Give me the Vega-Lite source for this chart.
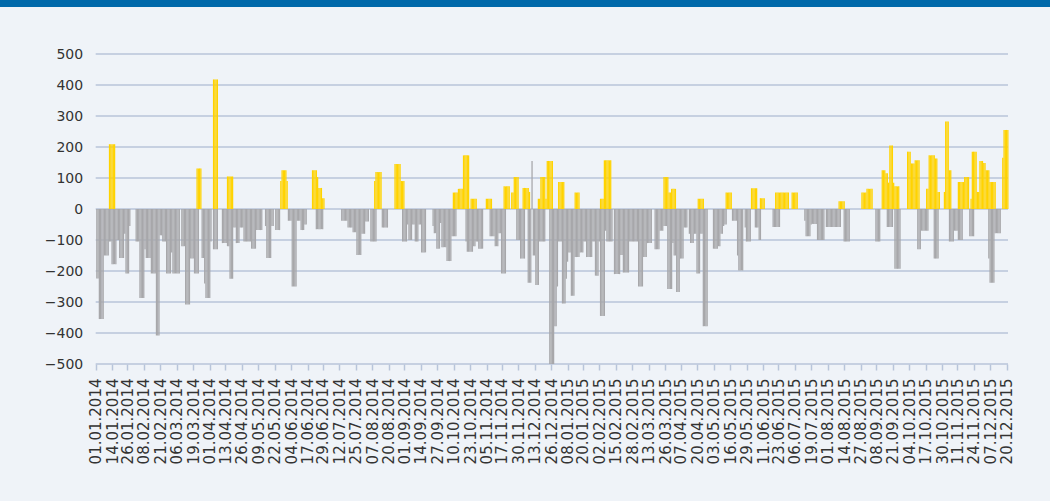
{
"$schema": "https://vega.github.io/schema/vega-lite/v6.json",
"background": "#eff3f8",
"padding": {"left": 0, "top": 0, "right": 0, "bottom": 40},
"spacing": 40,
"config": {"view": {"stroke": null}, "font": "DejaVu Sans",
 "axisX": {"format": "%d.%m.%Y", "formatType": "utc", "labelAngle": -90, "labelFontSize": 15, "labelColor": "#333333", "labelPadding": 8, "labelOverlap": false, "labelFlush": false, "labelBound": false,
  "domain": false, "grid": false, "ticks": true, "tickColor": "#b8c5da", "tickWidth": 1.5, "tickSize": 6, "title": null},
 "axisY": {"labelOverlap": false, "domain": false, "ticks": false, "grid": false, "offset": -95.7, "labelPadding": 13, "labelFontSize": 14, "labelColor": "#333333", "title": null}
},
"vconcat": [
{"width": 1050, "height": 7, "data": {"values": [{"k": 1}]}, "view": {"fill": "#0069aa", "stroke": null}, "mark": {"type": "point", "opacity": 0}, "encoding": {}},
{"width": 1008, "height": 310,
"layer": [
 {"data": {"values": [{"v":-500},{"v":-400},{"v":-300},{"v":-200},{"v":-100},{"v":0},{"v":100},{"v":200},{"v":300},{"v":400},{"v":500}]},
  "mark": {"type": "rule", "color": "#b8c5da", "strokeWidth": 1.5},
  "encoding": {
   "x": {"datum": 1388534400000, "type": "temporal", "title": null, "scale": {"type": "utc", "domain": [1382018112000, 1450656000000], "nice": false},
    "axis": {"values": [1388534400000,1389657600000,1390694400000,1391817600000,1392940800000,1394064000000,1395187200000,1396310400000,1397347200000,1398470400000,1399593600000,1400716800000,1401840000000,1402963200000,1404000000000,1405123200000,1406246400000,1407369600000,1408492800000,1409529600000,1410652800000,1411776000000,1412899200000,1414022400000,1415145600000,1416182400000,1417305600000,1418428800000,1419552000000,1420675200000,1421712000000,1422835200000,1423958400000,1425081600000,1426204800000,1427328000000,1428364800000,1429488000000,1430611200000,1431734400000,1432857600000,1433980800000,1435017600000,1436140800000,1437264000000,1438387200000,1439510400000,1440633600000,1441670400000,1442793600000,1443916800000,1445040000000,1446163200000,1447200000000,1448323200000,1449446400000,1450569600000], "format": "%d.%m.%Y", "formatType": "utc"}},
   "x2": {"datum": 1450656000000},
   "y": {"field": "v", "type": "quantitative", "title": null, "scale": {"domain": [-500, 500], "nice": false},
    "axis": {"values": [-500,-400,-300,-200,-100,0,100,200,300,400,500]}}}},
 {"data": {"name": "flows"},
  "mark": {"type": "bar", "color": "#a7a7aa", "binSpacing": 0},
  "encoding": {
   "x": {"field": "d", "type": "temporal", "timeUnit": "utcyearmonthdate", "title": null,
    "axis": {"values": [1388534400000,1389657600000,1390694400000,1391817600000,1392940800000,1394064000000,1395187200000,1396310400000,1397347200000,1398470400000,1399593600000,1400716800000,1401840000000,1402963200000,1404000000000,1405123200000,1406246400000,1407369600000,1408492800000,1409529600000,1410652800000,1411776000000,1412899200000,1414022400000,1415145600000,1416182400000,1417305600000,1418428800000,1419552000000,1420675200000,1421712000000,1422835200000,1423958400000,1425081600000,1426204800000,1427328000000,1428364800000,1429488000000,1430611200000,1431734400000,1432857600000,1433980800000,1435017600000,1436140800000,1437264000000,1438387200000,1439510400000,1440633600000,1441670400000,1442793600000,1443916800000,1445040000000,1446163200000,1447200000000,1448323200000,1449446400000,1450569600000], "format": "%d.%m.%Y", "formatType": "utc"}},
   "y": {"field": "g", "type": "quantitative", "title": null,
    "axis": {"values": [-500,-400,-300,-200,-100,0,100,200,300,400,500]}}}},
 {"data": {"name": "flows"},
  "mark": {"type": "bar", "color": "#ffd300", "binSpacing": 0},
  "encoding": {
   "x": {"field": "d", "type": "temporal", "timeUnit": "utcyearmonthdate", "title": null,
    "axis": {"values": [1388534400000,1389657600000,1390694400000,1391817600000,1392940800000,1394064000000,1395187200000,1396310400000,1397347200000,1398470400000,1399593600000,1400716800000,1401840000000,1402963200000,1404000000000,1405123200000,1406246400000,1407369600000,1408492800000,1409529600000,1410652800000,1411776000000,1412899200000,1414022400000,1415145600000,1416182400000,1417305600000,1418428800000,1419552000000,1420675200000,1421712000000,1422835200000,1423958400000,1425081600000,1426204800000,1427328000000,1428364800000,1429488000000,1430611200000,1431734400000,1432857600000,1433980800000,1435017600000,1436140800000,1437264000000,1438387200000,1439510400000,1440633600000,1441670400000,1442793600000,1443916800000,1445040000000,1446163200000,1447200000000,1448323200000,1449446400000,1450569600000], "format": "%d.%m.%Y", "formatType": "utc"}},
   "y": {"field": "y", "type": "quantitative", "title": null,
    "axis": {"values": [-500,-400,-300,-200,-100,0,100,200,300,400,500]}}}}
]
}
],
"datasets": {"flows": [
{"d":"2014-01-01","g":-224},{"d":"2014-01-02","g":-224},{"d":"2014-01-03","g":-355},{"d":"2014-01-04","g":-355},{"d":"2014-01-05","g":-355},{"d":"2014-01-06","g":-355},{"d":"2014-01-07","g":-150},{"d":"2014-01-08","g":-150},{"d":"2014-01-09","g":-150},{"d":"2014-01-10","g":-150},{"d":"2014-01-11","g":-105,"y":209},{"d":"2014-01-12","g":-105,"y":209},{"d":"2014-01-13","g":-178,"y":209},{"d":"2014-01-14","g":-178,"y":209},{"d":"2014-01-15","g":-178,"y":209},{"d":"2014-01-16","g":-178},{"d":"2014-01-17","g":-100},{"d":"2014-01-18","g":-100},{"d":"2014-01-19","g":-158},{"d":"2014-01-20","g":-158},{"d":"2014-01-21","g":-158},{"d":"2014-01-22","g":-158},{"d":"2014-01-23","g":-80},{"d":"2014-01-24","g":-208},{"d":"2014-01-25","g":-208},{"d":"2014-01-26","g":-208},{"d":"2014-01-27","g":-55},
{"d":"2014-02-01","g":-105},{"d":"2014-02-02","g":-105},{"d":"2014-02-03","g":-105},{"d":"2014-02-04","g":-287},{"d":"2014-02-05","g":-287},{"d":"2014-02-06","g":-287},{"d":"2014-02-07","g":-287},{"d":"2014-02-08","g":-130},{"d":"2014-02-09","g":-158},{"d":"2014-02-10","g":-158},{"d":"2014-02-11","g":-158},{"d":"2014-02-12","g":-158},{"d":"2014-02-13","g":-208},{"d":"2014-02-14","g":-208},{"d":"2014-02-15","g":-208},{"d":"2014-02-16","g":-208},{"d":"2014-02-17","g":-408},{"d":"2014-02-18","g":-408},{"d":"2014-02-19","g":-408},{"d":"2014-02-20","g":-85},{"d":"2014-02-21","g":-85},{"d":"2014-02-22","g":-105},{"d":"2014-02-23","g":-105},{"d":"2014-02-24","g":-105},{"d":"2014-02-25","g":-208},{"d":"2014-02-26","g":-208},{"d":"2014-02-27","g":-208},{"d":"2014-02-28","g":-208},
{"d":"2014-03-01","g":-140},{"d":"2014-03-02","g":-208},{"d":"2014-03-03","g":-208},{"d":"2014-03-04","g":-208},{"d":"2014-03-05","g":-208},{"d":"2014-03-06","g":-208},{"d":"2014-03-07","g":-208},{"d":"2014-03-09","g":-120},{"d":"2014-03-10","g":-120},{"d":"2014-03-11","g":-120},{"d":"2014-03-12","g":-308},{"d":"2014-03-13","g":-308},{"d":"2014-03-14","g":-308},{"d":"2014-03-15","g":-308},{"d":"2014-03-16","g":-160},{"d":"2014-03-17","g":-160},{"d":"2014-03-18","g":-160},{"d":"2014-03-19","g":-208},{"d":"2014-03-20","g":-208},{"d":"2014-03-21","g":-208,"y":131},{"d":"2014-03-22","g":-208,"y":131},{"d":"2014-03-23","y":131},{"d":"2014-03-24","y":131},{"d":"2014-03-25","g":-158},{"d":"2014-03-26","g":-158},{"d":"2014-03-27","g":-240},{"d":"2014-03-28","g":-287},{"d":"2014-03-29","g":-287},{"d":"2014-03-30","g":-287},{"d":"2014-03-31","g":-287},
{"d":"2014-04-01","g":-105},{"d":"2014-04-03","g":-130,"y":418},{"d":"2014-04-04","g":-130,"y":418},{"d":"2014-04-05","g":-130,"y":418},{"d":"2014-04-06","g":-130,"y":418},{"d":"2014-04-10","g":-110},{"d":"2014-04-11","g":-110},{"d":"2014-04-12","g":-110},{"d":"2014-04-13","g":-110},{"d":"2014-04-14","g":-120,"y":105},{"d":"2014-04-15","g":-120,"y":105},{"d":"2014-04-16","g":-225,"y":105},{"d":"2014-04-17","g":-225,"y":105},{"d":"2014-04-18","g":-225,"y":105},{"d":"2014-04-19","g":-60},{"d":"2014-04-20","g":-60},{"d":"2014-04-21","g":-110},{"d":"2014-04-22","g":-110},{"d":"2014-04-23","g":-110},{"d":"2014-04-24","g":-60},{"d":"2014-04-25","g":-60},{"d":"2014-04-26","g":-60},{"d":"2014-04-27","g":-105},{"d":"2014-04-28","g":-105},{"d":"2014-04-29","g":-105},{"d":"2014-04-30","g":-105},
{"d":"2014-05-01","g":-105},{"d":"2014-05-02","g":-105},{"d":"2014-05-03","g":-128},{"d":"2014-05-04","g":-128},{"d":"2014-05-05","g":-128},{"d":"2014-05-06","g":-128},{"d":"2014-05-07","g":-68},{"d":"2014-05-08","g":-68},{"d":"2014-05-09","g":-68},{"d":"2014-05-10","g":-68},{"d":"2014-05-11","g":-68},{"d":"2014-05-14","g":-55},{"d":"2014-05-15","g":-158},{"d":"2014-05-16","g":-158},{"d":"2014-05-17","g":-158},{"d":"2014-05-18","g":-158},{"d":"2014-05-19","g":-55},{"d":"2014-05-20","g":-55},{"d":"2014-05-22","g":-68},{"d":"2014-05-23","g":-68},{"d":"2014-05-24","g":-68},{"d":"2014-05-25","g":-68},{"d":"2014-05-26","y":90},{"d":"2014-05-27","y":125},{"d":"2014-05-28","y":125},{"d":"2014-05-29","y":125},{"d":"2014-05-30","y":125},{"d":"2014-05-31","y":90},
{"d":"2014-06-01","g":-38},{"d":"2014-06-02","g":-38},{"d":"2014-06-03","g":-38},{"d":"2014-06-04","g":-250},{"d":"2014-06-05","g":-250},{"d":"2014-06-06","g":-250},{"d":"2014-06-07","g":-250},{"d":"2014-06-08","g":-38},{"d":"2014-06-09","g":-38},{"d":"2014-06-10","g":-38},{"d":"2014-06-11","g":-68},{"d":"2014-06-12","g":-68},{"d":"2014-06-13","g":-68},{"d":"2014-06-14","g":-50},{"d":"2014-06-15","g":-50},{"d":"2014-06-20","y":125},{"d":"2014-06-21","y":125},{"d":"2014-06-22","y":125},{"d":"2014-06-23","g":-65,"y":125},{"d":"2014-06-24","g":-65,"y":103},{"d":"2014-06-25","g":-65,"y":68},{"d":"2014-06-26","g":-65,"y":68},{"d":"2014-06-27","g":-65,"y":68},{"d":"2014-06-28","g":-65,"y":35},{"d":"2014-06-29","y":35},
{"d":"2014-07-13","g":-38},{"d":"2014-07-14","g":-38},{"d":"2014-07-15","g":-38},{"d":"2014-07-16","g":-38},{"d":"2014-07-17","g":-38},{"d":"2014-07-18","g":-60},{"d":"2014-07-19","g":-60},{"d":"2014-07-20","g":-60},{"d":"2014-07-21","g":-60},{"d":"2014-07-22","g":-75},{"d":"2014-07-23","g":-75},{"d":"2014-07-24","g":-75},{"d":"2014-07-25","g":-148},{"d":"2014-07-26","g":-148},{"d":"2014-07-27","g":-148},{"d":"2014-07-28","g":-148},{"d":"2014-07-29","g":-80},{"d":"2014-07-30","g":-80},{"d":"2014-07-31","g":-80},
{"d":"2014-08-01","g":-40},{"d":"2014-08-02","g":-40},{"d":"2014-08-03","g":-40},{"d":"2014-08-05","g":-105},{"d":"2014-08-06","g":-105},{"d":"2014-08-07","g":-105},{"d":"2014-08-08","g":-105,"y":90},{"d":"2014-08-09","g":-105,"y":119},{"d":"2014-08-10","y":119},{"d":"2014-08-11","y":119},{"d":"2014-08-12","y":119},{"d":"2014-08-13","y":119},{"d":"2014-08-14","g":-60},{"d":"2014-08-15","g":-60},{"d":"2014-08-16","g":-60},{"d":"2014-08-17","g":-60},{"d":"2014-08-18","g":-60},{"d":"2014-08-24","y":145},{"d":"2014-08-25","y":145},{"d":"2014-08-26","y":145},{"d":"2014-08-27","y":145},{"d":"2014-08-28","y":145},{"d":"2014-08-29","y":90},{"d":"2014-08-30","g":-105,"y":90},{"d":"2014-08-31","g":-105,"y":90},
{"d":"2014-09-01","g":-105},{"d":"2014-09-02","g":-105},{"d":"2014-09-03","g":-50},{"d":"2014-09-04","g":-100},{"d":"2014-09-05","g":-100},{"d":"2014-09-06","g":-100},{"d":"2014-09-07","g":-50},{"d":"2014-09-08","g":-50},{"d":"2014-09-09","g":-105},{"d":"2014-09-10","g":-105},{"d":"2014-09-11","g":-105},{"d":"2014-09-12","g":-50},{"d":"2014-09-13","g":-50},{"d":"2014-09-14","g":-140},{"d":"2014-09-15","g":-140},{"d":"2014-09-16","g":-140},{"d":"2014-09-17","g":-140},{"d":"2014-09-23","g":-55},{"d":"2014-09-24","g":-78},{"d":"2014-09-25","g":-78},{"d":"2014-09-26","g":-128},{"d":"2014-09-27","g":-128},{"d":"2014-09-28","g":-128},{"d":"2014-09-29","g":-45},{"d":"2014-09-30","g":-123},
{"d":"2014-10-01","g":-123},{"d":"2014-10-02","g":-123},{"d":"2014-10-03","g":-123},{"d":"2014-10-04","g":-168},{"d":"2014-10-05","g":-168},{"d":"2014-10-06","g":-168},{"d":"2014-10-07","g":-168},{"d":"2014-10-08","g":-88},{"d":"2014-10-09","g":-88,"y":53},{"d":"2014-10-10","g":-88,"y":53},{"d":"2014-10-11","g":-88,"y":53},{"d":"2014-10-12","y":53},{"d":"2014-10-13","y":65},{"d":"2014-10-14","y":65},{"d":"2014-10-15","y":65},{"d":"2014-10-16","y":65},{"d":"2014-10-17","y":173},{"d":"2014-10-18","y":173},{"d":"2014-10-19","g":-105,"y":173},{"d":"2014-10-20","g":-138,"y":173},{"d":"2014-10-21","g":-138,"y":173},{"d":"2014-10-22","g":-138},{"d":"2014-10-23","g":-138,"y":33},{"d":"2014-10-24","g":-138,"y":33},{"d":"2014-10-25","g":-120,"y":33},{"d":"2014-10-26","g":-120,"y":33},{"d":"2014-10-27","g":-105,"y":33},{"d":"2014-10-28","g":-105},{"d":"2014-10-29","g":-128},{"d":"2014-10-30","g":-128},{"d":"2014-10-31","g":-128},
{"d":"2014-11-01","g":-128},{"d":"2014-11-04","y":33},{"d":"2014-11-05","y":33},{"d":"2014-11-06","y":33},{"d":"2014-11-07","g":-88,"y":33},{"d":"2014-11-08","g":-88,"y":33},{"d":"2014-11-09","g":-88},{"d":"2014-11-10","g":-88},{"d":"2014-11-11","g":-120},{"d":"2014-11-12","g":-120},{"d":"2014-11-13","g":-120},{"d":"2014-11-14","g":-78},{"d":"2014-11-15","g":-78},{"d":"2014-11-16","g":-208},{"d":"2014-11-17","g":-208},{"d":"2014-11-18","g":-208,"y":73},{"d":"2014-11-19","g":-208,"y":73},{"d":"2014-11-20","y":73},{"d":"2014-11-21","y":73},{"d":"2014-11-22","y":73},{"d":"2014-11-24","y":53},{"d":"2014-11-25","y":53},{"d":"2014-11-26","y":103},{"d":"2014-11-27","y":103},{"d":"2014-11-28","g":-100,"y":103},{"d":"2014-11-29","g":-100,"y":103},{"d":"2014-11-30","g":-100},
{"d":"2014-12-01","g":-160},{"d":"2014-12-02","g":-160},{"d":"2014-12-03","g":-160,"y":68},{"d":"2014-12-04","g":-160,"y":68},{"d":"2014-12-05","y":68},{"d":"2014-12-06","y":68},{"d":"2014-12-07","g":-238,"y":68},{"d":"2014-12-08","g":-238,"y":55},{"d":"2014-12-09","g":-238},{"d":"2014-12-10","g":155},{"d":"2014-12-11","g":-150},{"d":"2014-12-12","g":-150},{"d":"2014-12-13","g":-245},{"d":"2014-12-14","g":-245},{"d":"2014-12-15","g":-245,"y":33},{"d":"2014-12-16","g":-105,"y":33},{"d":"2014-12-17","g":-105,"y":103},{"d":"2014-12-18","g":-105,"y":103},{"d":"2014-12-19","g":-105,"y":103},{"d":"2014-12-20","g":-105,"y":103},{"d":"2014-12-21","y":33},{"d":"2014-12-22","y":155},{"d":"2014-12-23","y":155},{"d":"2014-12-24","g":-500,"y":155},{"d":"2014-12-25","g":-500,"y":155},{"d":"2014-12-26","g":-500,"y":155},{"d":"2014-12-27","g":-500},{"d":"2014-12-28","g":-378},{"d":"2014-12-29","g":-378},{"d":"2014-12-30","g":-250},{"d":"2014-12-31","g":-105,"y":87},
{"d":"2015-01-01","g":-105,"y":87},{"d":"2015-01-02","g":-105,"y":87},{"d":"2015-01-03","g":-305,"y":87},{"d":"2015-01-04","g":-305,"y":87},{"d":"2015-01-05","g":-305},{"d":"2015-01-06","g":-225},{"d":"2015-01-07","g":-170},{"d":"2015-01-08","g":-140},{"d":"2015-01-09","g":-140},{"d":"2015-01-10","g":-280},{"d":"2015-01-11","g":-280},{"d":"2015-01-12","g":-280},{"d":"2015-01-13","g":-155,"y":53},{"d":"2015-01-14","g":-155,"y":53},{"d":"2015-01-15","g":-155,"y":53},{"d":"2015-01-16","g":-155,"y":53},{"d":"2015-01-17","g":-140},{"d":"2015-01-18","g":-140},{"d":"2015-01-19","g":-140},{"d":"2015-01-20","g":-105},{"d":"2015-01-21","g":-105},{"d":"2015-01-22","g":-155},{"d":"2015-01-23","g":-155},{"d":"2015-01-24","g":-155},{"d":"2015-01-25","g":-155},{"d":"2015-01-26","g":-155},{"d":"2015-01-27","g":-105},{"d":"2015-01-28","g":-105},{"d":"2015-01-29","g":-215},{"d":"2015-01-30","g":-215},{"d":"2015-01-31","g":-215},
{"d":"2015-02-01","g":-105},{"d":"2015-02-02","g":-345,"y":33},{"d":"2015-02-03","g":-345,"y":33},{"d":"2015-02-04","g":-345,"y":33},{"d":"2015-02-05","g":-345,"y":157},{"d":"2015-02-06","g":-70,"y":157},{"d":"2015-02-07","g":-105,"y":157},{"d":"2015-02-08","g":-105,"y":157},{"d":"2015-02-09","g":-105,"y":157},{"d":"2015-02-10","g":-105,"y":157},{"d":"2015-02-11","g":-105},{"d":"2015-02-13","g":-210},{"d":"2015-02-14","g":-210},{"d":"2015-02-15","g":-210},{"d":"2015-02-16","g":-210},{"d":"2015-02-17","g":-210},{"d":"2015-02-18","g":-148},{"d":"2015-02-19","g":-148},{"d":"2015-02-20","g":-205},{"d":"2015-02-21","g":-205},{"d":"2015-02-22","g":-205},{"d":"2015-02-23","g":-205},{"d":"2015-02-24","g":-205},{"d":"2015-02-25","g":-105},{"d":"2015-02-26","g":-105},{"d":"2015-02-27","g":-105},{"d":"2015-02-28","g":-105},
{"d":"2015-03-01","g":-105},{"d":"2015-03-02","g":-105},{"d":"2015-03-03","g":-105},{"d":"2015-03-04","g":-250},{"d":"2015-03-05","g":-250},{"d":"2015-03-06","g":-250},{"d":"2015-03-07","g":-250},{"d":"2015-03-08","g":-155},{"d":"2015-03-09","g":-155},{"d":"2015-03-10","g":-155},{"d":"2015-03-11","g":-110},{"d":"2015-03-12","g":-110},{"d":"2015-03-13","g":-110},{"d":"2015-03-14","g":-110},{"d":"2015-03-17","g":-130},{"d":"2015-03-18","g":-130},{"d":"2015-03-19","g":-130},{"d":"2015-03-20","g":-130},{"d":"2015-03-21","g":-70},{"d":"2015-03-22","g":-70},{"d":"2015-03-23","g":-70},{"d":"2015-03-24","g":-55,"y":103},{"d":"2015-03-25","g":-55,"y":103},{"d":"2015-03-26","g":-55,"y":103},{"d":"2015-03-27","g":-258,"y":103},{"d":"2015-03-28","g":-258,"y":53},{"d":"2015-03-29","g":-258,"y":53},{"d":"2015-03-30","g":-258,"y":65},{"d":"2015-03-31","g":-110,"y":65},
{"d":"2015-04-01","g":-150,"y":65},{"d":"2015-04-02","g":-150,"y":65},{"d":"2015-04-03","g":-268},{"d":"2015-04-04","g":-268},{"d":"2015-04-05","g":-268},{"d":"2015-04-06","g":-160},{"d":"2015-04-07","g":-160},{"d":"2015-04-08","g":-160},{"d":"2015-04-09","g":-60},{"d":"2015-04-10","g":-60},{"d":"2015-04-11","g":-60},{"d":"2015-04-13","g":-80},{"d":"2015-04-14","g":-110},{"d":"2015-04-15","g":-110},{"d":"2015-04-16","g":-110},{"d":"2015-04-17","g":-80},{"d":"2015-04-18","g":-80},{"d":"2015-04-19","g":-208},{"d":"2015-04-20","g":-208,"y":33},{"d":"2015-04-21","g":-208,"y":33},{"d":"2015-04-22","g":-80,"y":33},{"d":"2015-04-23","g":-80,"y":33},{"d":"2015-04-24","g":-378,"y":33},{"d":"2015-04-25","g":-378},{"d":"2015-04-26","g":-378},{"d":"2015-04-27","g":-378},
{"d":"2015-05-02","g":-128},{"d":"2015-05-03","g":-128},{"d":"2015-05-04","g":-128},{"d":"2015-05-05","g":-128},{"d":"2015-05-06","g":-120},{"d":"2015-05-07","g":-120},{"d":"2015-05-08","g":-80},{"d":"2015-05-09","g":-80},{"d":"2015-05-10","g":-55},{"d":"2015-05-11","g":-50},{"d":"2015-05-12","g":-50,"y":53},{"d":"2015-05-13","y":53},{"d":"2015-05-14","y":53},{"d":"2015-05-15","y":53},{"d":"2015-05-16","y":53},{"d":"2015-05-17","g":-38},{"d":"2015-05-18","g":-38},{"d":"2015-05-19","g":-38},{"d":"2015-05-20","g":-38},{"d":"2015-05-21","g":-150},{"d":"2015-05-22","g":-198},{"d":"2015-05-23","g":-198},{"d":"2015-05-24","g":-198},{"d":"2015-05-25","g":-198},{"d":"2015-05-27","g":-60},{"d":"2015-05-28","g":-105},{"d":"2015-05-29","g":-105},{"d":"2015-05-30","g":-105},{"d":"2015-05-31","g":-105},
{"d":"2015-06-01","y":67},{"d":"2015-06-02","y":67},{"d":"2015-06-03","y":67},{"d":"2015-06-04","g":-60,"y":67},{"d":"2015-06-05","g":-60,"y":67},{"d":"2015-06-06","g":-60},{"d":"2015-06-07","g":-100},{"d":"2015-06-08","g":-100,"y":35},{"d":"2015-06-09","y":35},{"d":"2015-06-10","y":35},{"d":"2015-06-11","y":35},{"d":"2015-06-18","g":-58},{"d":"2015-06-19","g":-58},{"d":"2015-06-20","g":-58,"y":53},{"d":"2015-06-21","g":-58,"y":53},{"d":"2015-06-22","g":-58,"y":53},{"d":"2015-06-23","g":-58,"y":53},{"d":"2015-06-24","y":53},{"d":"2015-06-25","y":53},{"d":"2015-06-26","y":53},{"d":"2015-06-27","y":53},{"d":"2015-06-28","y":53},{"d":"2015-06-29","y":53},{"d":"2015-06-30","y":53},
{"d":"2015-07-03","y":53},{"d":"2015-07-04","y":53},{"d":"2015-07-05","y":53},{"d":"2015-07-06","y":53},{"d":"2015-07-07","y":53},{"d":"2015-07-13","g":-38},{"d":"2015-07-14","g":-88},{"d":"2015-07-15","g":-88},{"d":"2015-07-16","g":-88},{"d":"2015-07-17","g":-88},{"d":"2015-07-18","g":-50},{"d":"2015-07-19","g":-48},{"d":"2015-07-20","g":-48},{"d":"2015-07-21","g":-48},{"d":"2015-07-22","g":-48},{"d":"2015-07-23","g":-100},{"d":"2015-07-24","g":-100},{"d":"2015-07-25","g":-100},{"d":"2015-07-26","g":-100},{"d":"2015-07-27","g":-100},{"d":"2015-07-28","g":-100},{"d":"2015-07-30","g":-58},{"d":"2015-07-31","g":-58},
{"d":"2015-08-01","g":-58},{"d":"2015-08-02","g":-58},{"d":"2015-08-03","g":-58},{"d":"2015-08-04","g":-58},{"d":"2015-08-05","g":-58},{"d":"2015-08-06","g":-58},{"d":"2015-08-07","g":-58},{"d":"2015-08-08","g":-58},{"d":"2015-08-09","g":-58,"y":25},{"d":"2015-08-10","g":-58,"y":25},{"d":"2015-08-11","y":25},{"d":"2015-08-12","y":25},{"d":"2015-08-13","g":-105,"y":25},{"d":"2015-08-14","g":-105},{"d":"2015-08-15","g":-105},{"d":"2015-08-16","g":-105},{"d":"2015-08-17","g":-105},{"d":"2015-08-27","y":53},{"d":"2015-08-28","y":53},{"d":"2015-08-29","y":53},{"d":"2015-08-30","y":53},{"d":"2015-08-31","y":65},
{"d":"2015-09-01","y":65},{"d":"2015-09-02","y":65},{"d":"2015-09-03","y":65},{"d":"2015-09-04","y":65},{"d":"2015-09-07","g":-105},{"d":"2015-09-08","g":-105},{"d":"2015-09-09","g":-105},{"d":"2015-09-10","g":-105},{"d":"2015-09-12","y":125},{"d":"2015-09-13","y":125},{"d":"2015-09-14","y":125},{"d":"2015-09-15","y":115},{"d":"2015-09-16","g":-58,"y":115},{"d":"2015-09-17","g":-58,"y":85},{"d":"2015-09-18","g":-58,"y":205},{"d":"2015-09-19","g":-58,"y":205},{"d":"2015-09-20","g":-58,"y":205},{"d":"2015-09-21","y":85},{"d":"2015-09-22","g":-193,"y":73},{"d":"2015-09-23","g":-193,"y":73},{"d":"2015-09-24","g":-193,"y":73},{"d":"2015-09-25","g":-193,"y":73},{"d":"2015-09-26","g":-193},
{"d":"2015-10-02","y":185},{"d":"2015-10-03","y":185},{"d":"2015-10-04","y":185},{"d":"2015-10-05","y":147},{"d":"2015-10-06","y":147},{"d":"2015-10-07","y":147},{"d":"2015-10-08","y":157},{"d":"2015-10-09","y":157},{"d":"2015-10-10","g":-130,"y":157},{"d":"2015-10-11","g":-130,"y":157},{"d":"2015-10-12","g":-130},{"d":"2015-10-13","g":-70},{"d":"2015-10-14","g":-70},{"d":"2015-10-15","g":-70},{"d":"2015-10-16","g":-70},{"d":"2015-10-17","g":-70,"y":65},{"d":"2015-10-18","g":-70,"y":65},{"d":"2015-10-19","y":173},{"d":"2015-10-20","y":173},{"d":"2015-10-21","y":173},{"d":"2015-10-22","y":173},{"d":"2015-10-23","g":-160,"y":173},{"d":"2015-10-24","g":-160,"y":163},{"d":"2015-10-25","g":-160,"y":163},{"d":"2015-10-26","g":-160,"y":55},{"d":"2015-10-27","y":55},{"d":"2015-10-31","y":55},
{"d":"2015-11-01","y":282},{"d":"2015-11-02","y":282},{"d":"2015-11-03","y":282},{"d":"2015-11-04","g":-105,"y":125},{"d":"2015-11-05","g":-105,"y":125},{"d":"2015-11-06","g":-105},{"d":"2015-11-07","g":-105},{"d":"2015-11-08","g":-70},{"d":"2015-11-09","g":-70},{"d":"2015-11-10","g":-70},{"d":"2015-11-11","g":-100,"y":87},{"d":"2015-11-12","g":-100,"y":87},{"d":"2015-11-13","g":-100,"y":87},{"d":"2015-11-14","g":-100,"y":87},{"d":"2015-11-15","y":87},{"d":"2015-11-16","y":103},{"d":"2015-11-17","y":103},{"d":"2015-11-18","y":103},{"d":"2015-11-19","y":103},{"d":"2015-11-20","g":-88},{"d":"2015-11-21","g":-88,"y":33},{"d":"2015-11-22","g":-88,"y":185},{"d":"2015-11-23","g":-88,"y":185},{"d":"2015-11-24","y":185},{"d":"2015-11-25","y":185},{"d":"2015-11-26","y":55},{"d":"2015-11-27","y":55},{"d":"2015-11-28","y":155},{"d":"2015-11-29","y":155},{"d":"2015-11-30","y":155},
{"d":"2015-12-01","y":148},{"d":"2015-12-02","y":148},{"d":"2015-12-03","y":125},{"d":"2015-12-04","y":125},{"d":"2015-12-05","g":-160,"y":125},{"d":"2015-12-06","g":-238,"y":87},{"d":"2015-12-07","g":-238,"y":87},{"d":"2015-12-08","g":-238,"y":87},{"d":"2015-12-09","g":-238,"y":87},{"d":"2015-12-10","g":-78,"y":87},{"d":"2015-12-11","g":-78},{"d":"2015-12-12","g":-78},{"d":"2015-12-13","g":-78},{"d":"2015-12-14","g":-78},{"d":"2015-12-16","y":165},{"d":"2015-12-17","y":255},{"d":"2015-12-18","y":255},{"d":"2015-12-19","y":255},{"d":"2015-12-20","y":255}
]}
}
